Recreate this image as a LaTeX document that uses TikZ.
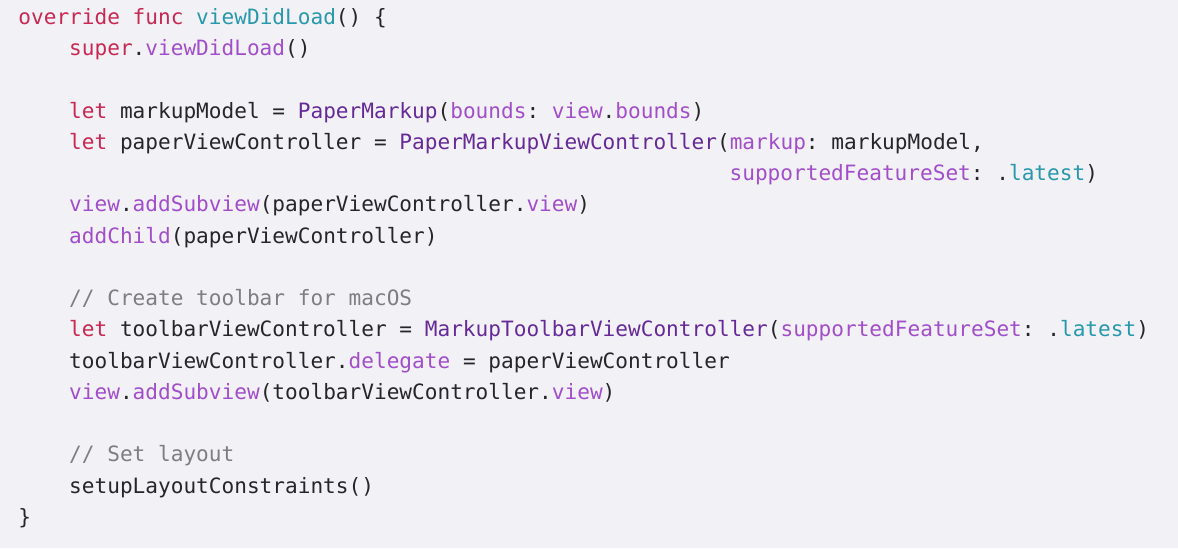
\documentclass[tikz,border=0pt]{standalone}
\usepackage{fontspec}
\newfontfamily\codefont{DejaVu Sans Mono}
\usepackage{tikz}
\tikzset{
	>=latex,
}
\definecolor{bgcol}{RGB}{242,241,246}
\definecolor{plaincol}{RGB}{38,38,42}
\definecolor{kwred}{RGB}{200,40,82}
\definecolor{declteal}{RGB}{40,152,172}
\definecolor{typepurple}{RGB}{102,42,152}
\definecolor{mempurple}{RGB}{162,78,202}
\definecolor{cmtgray}{RGB}{125,125,130}
\newcommand\ckw[1]{\textcolor{kwred}{#1}}
\newcommand\cdecl[1]{\textcolor{declteal}{#1}}
\newcommand\ctype[1]{\textcolor{typepurple}{#1}}
\newcommand\cmem[1]{\textcolor{mempurple}{#1}}
\newcommand\clit[1]{\textcolor{declteal}{#1}}
\newcommand\ccmt[1]{\textcolor{cmtgray}{#1}}
\tikzstyle{codeline}=[anchor=base west,inner sep=0pt,text=plaincol,
    font=\codefont\fontsize{10.55}{12}\selectfont\frenchspacing]

\begin{document}
\begin{tikzpicture}[x=0.5pt,y=-0.5pt]
      \fill[bgcol] (0,0) rectangle (1178,548);
      \node[codeline] (l1) at (18,24.5) {\ckw{override func} \cdecl{viewDidLoad}() \{};
      \node[codeline] (l2) at (68.8,55.7) {\ckw{super}.\cmem{viewDidLoad}()};
      \node[codeline] (l4) at (68.8,118.2) {\ckw{let} markupModel = \ctype{PaperMarkup}(\cmem{bounds}: \cmem{view}.\cmem{bounds})};
      \node[codeline] (l5) at (68.8,149.4) {\ckw{let} paperViewController = \ctype{PaperMarkupViewController}(\cmem{markup}: markupModel,};
      \node[codeline] (l6) at (729.2,180.7) {\cmem{supportedFeatureSet}: .\clit{latest})};
      \node[codeline] (l7) at (68.8,211.9) {\cmem{view}.\cmem{addSubview}(paperViewController.\cmem{view})};
      \node[codeline] (l8) at (68.8,243.1) {\cmem{addChild}(paperViewController)};
      \node[codeline] (l10) at (68.8,305.6) {\ccmt{// Create toolbar for macOS}};
      \node[codeline] (l11) at (68.8,336.8) {\ckw{let} toolbarViewController = \ctype{MarkupToolbarViewController}(\cmem{supportedFeatureSet}: .\clit{latest})};
      \node[codeline] (l12) at (68.8,368.1) {toolbarViewController.\cmem{delegate} = paperViewController};
      \node[codeline] (l13) at (68.8,399.3) {\cmem{view}.\cmem{addSubview}(toolbarViewController.\cmem{view})};
      \node[codeline] (l15) at (68.8,461.7) {\ccmt{// Set layout}};
      \node[codeline] (l16) at (68.8,493.0) {setupLayoutConstraints()};
      \node[codeline] (l17) at (18,524.2) {\}};
\end{tikzpicture}
\end{document}
